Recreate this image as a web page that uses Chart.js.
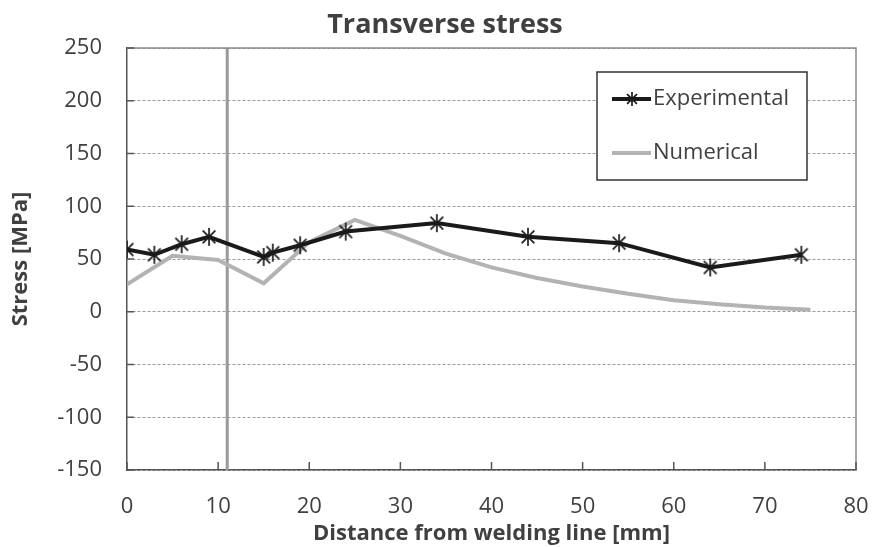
<!DOCTYPE html>
<html>
<head>
<meta charset="utf-8">
<script src="https://cdn.jsdelivr.net/npm/chart.js@4.4.1/dist/chart.umd.min.js"></script>
<style>
  html, body { margin: 0; padding: 0; background: #fff; }
  #wrap { width: 873px; height: 547px; }
</style>
</head>
<body>
<div id="wrap"><canvas id="grafico" width="873" height="547"></canvas></div>
<script>
// Dados
const expX = [0, 3, 6, 9, 15, 16, 19, 24, 34, 44, 54, 64, 74];
const expY = [59, 54, 64, 71, 52, 56, 63, 76, 84, 71, 65, 42, 54];

const numX = [0, 5, 10, 15, 20, 25, 30, 35, 40, 45, 50, 55, 60, 65, 70, 75];
const numY = [26, 53, 49, 27, 66, 87, 72, 55, 42, 32, 24, 17, 11, 7, 4, 2];

const linhaVertical = 11;   // linha vertical cinza
const yTicks = [-150, -100, -50, 0, 50, 100, 150, 200, 250];
const xTicks = [0, 10, 20, 30, 40, 50, 60, 70, 80];

const fonte = "'Open Sans', 'Liberation Sans', sans-serif";
const corTexto = '#404040';
const corEixo = '#555';

// Marcador asterisco (vertical + X)
function criaAsterisco(r, cor) {
    const c = document.createElement('canvas');
    c.width = c.height = r * 2 + 2;
    const g = c.getContext('2d');
    const m = r + 1;
    g.strokeStyle = cor;
    g.lineWidth = 1.7;
    g.beginPath();
    g.moveTo(m, m - r); g.lineTo(m, m + r);
    const ang = [Math.PI / 4, -Math.PI / 4];
    ang.forEach(a => {
        g.moveTo(m - r * Math.cos(a), m - r * Math.sin(a));
        g.lineTo(m + r * Math.cos(a), m + r * Math.sin(a));
    });
    g.stroke();
    return c;
}
const asterisco = criaAsterisco(9, '#1a1a1a');
const asteriscoLegenda = criaAsterisco(7, '#1a1a1a');

// Plugin: título, caixa, marcas dos eixos e legenda
const extras = {
    id: 'extras',
    afterDraw(chart) {
        const ctx = chart.ctx;
        const a = chart.chartArea;
        const xs = chart.scales.x, ys = chart.scales.y;
        ctx.save();

        // caixa (topo e direita)
        ctx.strokeStyle = '#8a8a8a';
        ctx.lineWidth = 1.5;
        ctx.beginPath();
        ctx.moveTo(a.left, a.top);
        ctx.lineTo(a.right, a.top);
        ctx.lineTo(a.right, a.bottom);
        ctx.stroke();

        // marcas internas
        ctx.strokeStyle = corEixo;
        ctx.lineWidth = 1.5;
        ctx.beginPath();
        yTicks.forEach(v => {
            const y = ys.getPixelForValue(v);
            ctx.moveTo(a.left, y);
            ctx.lineTo(a.left + 7, y);
        });
        xTicks.forEach(v => {
            const x = xs.getPixelForValue(v);
            ctx.moveTo(x, a.bottom);
            ctx.lineTo(x, a.bottom - 8);
        });
        ctx.stroke();

        // título
        ctx.fillStyle = corTexto;
        ctx.font = 'bold 27px ' + fonte;
        ctx.textAlign = 'center';
        ctx.textBaseline = 'middle';
        ctx.fillText('Transverse stress', 445, 25);

        // legenda
        const lx = 597, ly = 72, lw = 210, lh = 108;
        ctx.fillStyle = '#fff';
        ctx.fillRect(lx, ly, lw, lh);
        ctx.strokeStyle = '#333';
        ctx.lineWidth = 1.5;
        ctx.strokeRect(lx, ly, lw, lh);

        ctx.font = '22px ' + fonte;
        ctx.textAlign = 'left';
        ctx.fillStyle = corTexto;

        // Experimental
        ctx.strokeStyle = '#1a1a1a';
        ctx.lineWidth = 4;
        ctx.beginPath();
        ctx.moveTo(612, 99); ctx.lineTo(651, 99);
        ctx.stroke();
        ctx.drawImage(asteriscoLegenda, 632 - 8, 99 - 8);
        ctx.fillText('Experimental', 653, 99);

        // Numerical
        ctx.strokeStyle = '#b3b3b3';
        ctx.lineWidth = 4;
        ctx.beginPath();
        ctx.moveTo(612, 153); ctx.lineTo(651, 153);
        ctx.stroke();
        ctx.fillText('Numerical', 653, 153);

        ctx.restore();
    }
};

const ctx = document.getElementById('grafico').getContext('2d');

new Chart(ctx, {
    type: 'scatter',
    data: {
        datasets: [
            {
                label: 'Vertical',
                data: [{x: linhaVertical, y: -150}, {x: linhaVertical, y: 250}],
                showLine: true,
                borderColor: '#9a9a9a',
                borderWidth: 3,
                pointRadius: 0,
                order: 3
            },
            {
                label: 'Numerical',
                data: numX.map((x, i) => ({x: x, y: numY[i]})),
                showLine: true,
                borderColor: '#b3b3b3',
                borderWidth: 4,
                pointRadius: 0,
                order: 2
            },
            {
                label: 'Experimental',
                data: expX.map((x, i) => ({x: x, y: expY[i]})),
                showLine: true,
                borderColor: '#1a1a1a',
                borderWidth: 4,
                pointStyle: asterisco,
                pointRadius: 9,
                order: 1
            }
        ]
    },
    options: {
        responsive: false,
        animation: false,
        layout: { padding: { top: 48, right: 17, left: 0, bottom: 0 } },
        plugins: {
            legend: { display: false },
            title: { display: false },
            tooltip: { enabled: false }
        },
        scales: {
            x: {
                type: 'linear',
                min: 0, max: 80,
                afterBuildTicks: s => { s.ticks = xTicks.map(v => ({value: v})); },
                afterFit: s => { s.height = 77; s.paddingLeft = 0; s.paddingRight = 0; },
                grid: { display: false, drawTicks: false },
                border: { color: corEixo, width: 1.5 },
                ticks: { color: corTexto, padding: 24, font: { size: 22, family: fonte } },
                title: {
                    display: true,
                    text: 'Distance from welding line [mm]',
                    color: corTexto,
                    font: { size: 22, weight: 'bold', family: fonte },
                    padding: { top: 0, bottom: 0 }
                }
            },
            y: {
                min: -150, max: 250,
                afterBuildTicks: s => { s.ticks = yTicks.map(v => ({value: v})); },
                afterFit: s => { s.width = 127; s.paddingTop = 0; s.paddingBottom = 0; },
                grid: {
                    color: '#9a9a9a',
                    lineWidth: 1,
                    drawTicks: false
                },
                border: { color: corEixo, width: 1.5, dash: [3, 2] },
                ticks: { color: corTexto, padding: 25, font: { size: 22, family: fonte } },
                title: {
                    display: true,
                    text: 'Stress [MPa]',
                    color: corTexto,
                    font: { size: 22, weight: 'bold', family: fonte },
                    padding: { top: 8, bottom: 0 }
                }
            }
        }
    },
    plugins: [extras]
});
</script>
</body>
</html>
